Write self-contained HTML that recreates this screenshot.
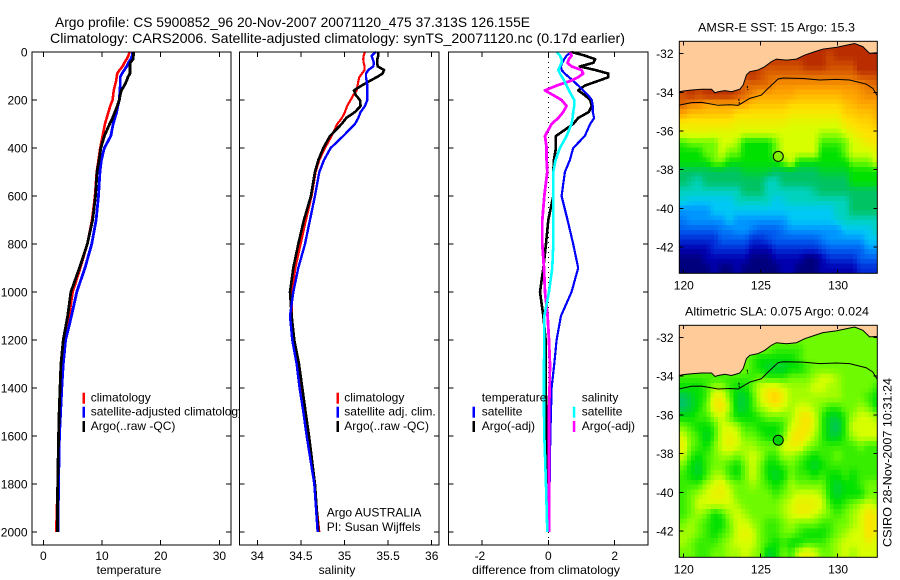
<!DOCTYPE html>
<html lang="en">
<head>
<meta charset="utf-8">
<title>Argo profile</title>
<style>
html,body{margin:0;padding:0;background:#fff;}
svg{display:block;}
text{font-family:"Liberation Sans",sans-serif;font-size:12px;fill:#000;}
.title{font-size:14px;}
</style>
</head>
<body>
<svg id="chart" xmlns="http://www.w3.org/2000/svg" width="900" height="580" viewBox="0 0 900 580">
<defs>
<clipPath id="clip-sst"><rect x="679.3" y="41.3" width="198" height="232"/></clipPath>
<clipPath id="clip-sla"><rect x="679.3" y="325.3" width="198" height="232"/></clipPath>
</defs>
<rect width="900" height="580" fill="#fff"/>
<text class="title" x="55" y="27" textLength="475" lengthAdjust="spacingAndGlyphs">Argo profile: CS 5900852_96 20-Nov-2007 20071120_475 37.313S 126.155E</text>
<text class="title" x="50" y="43" textLength="575" lengthAdjust="spacingAndGlyphs">Climatology: CARS2006. Satellite-adjusted climatology: synTS_20071120.nc (0.17d earlier)</text>

<g id="panel-temp">
<rect x="32" y="52" width="199" height="493" fill="#fff"/>
<g id="ticks-temp"></g>
<g id="curves-temp"></g>
<rect x="32" y="52" width="199" height="493" fill="none" stroke="#000" stroke-width="1"/>
<g>
<rect x="82.5" y="392.7" width="2.5" height="11" fill="#f00"/>
<rect x="82.5" y="406.7" width="2.5" height="11" fill="#00f"/>
<rect x="82.5" y="421" width="2.5" height="11" fill="#000"/>
<text x="90.7" y="401.7">climatology</text>
<text x="90.7" y="415.7">satellite-adjusted climatology</text>
<text x="90.7" y="430">Argo(..raw -QC)</text>
</g>
<text x="129" y="574" text-anchor="middle">temperature</text>
</g>

<g id="panel-sal">
<rect x="239.5" y="52" width="199.5" height="493" fill="#fff"/>
<g id="ticks-sal"></g>
<g id="curves-sal"></g>
<rect x="239.5" y="52" width="199.5" height="493" fill="none" stroke="#000" stroke-width="1"/>
<g>
<rect x="336.5" y="392.7" width="2.5" height="11" fill="#f00"/>
<rect x="336.5" y="406.7" width="2.5" height="11" fill="#00f"/>
<rect x="336.5" y="421" width="2.5" height="11" fill="#000"/>
<text x="344.3" y="401.7">climatology</text>
<text x="344.3" y="415.7">satellite adj. clim.</text>
<text x="344.3" y="430">Argo(..raw -QC)</text>
</g>
<text x="326.7" y="516.7">Argo AUSTRALIA</text>
<text x="326.7" y="531">PI: Susan Wijffels</text>
<text x="337" y="574" text-anchor="middle">salinity</text>
</g>

<g id="panel-diff">
<rect x="448.5" y="52" width="199.5" height="493" fill="#fff"/>
<g id="ticks-diff"></g>
<g id="curves-diff"></g>
<rect x="448.5" y="52" width="199.5" height="493" fill="none" stroke="#000" stroke-width="1"/>
<g>
<text x="481.7" y="401.7">temperature</text>
<text x="581.7" y="401.7">salinity</text>
<rect x="472.5" y="406.7" width="2.5" height="11" fill="#00f"/>
<rect x="472.5" y="421" width="2.5" height="11" fill="#000"/>
<rect x="572.8" y="406.7" width="2.5" height="11" fill="#0ff"/>
<rect x="572.8" y="421" width="2.5" height="11" fill="#f0f"/>
<text x="481.7" y="415.7">satellite</text>
<text x="481.7" y="430">Argo(-adj)</text>
<text x="581.7" y="415.7">satellite</text>
<text x="581.7" y="430">Argo(-adj)</text>
</g>
<text x="546" y="574" text-anchor="middle" textLength="148" lengthAdjust="spacingAndGlyphs">difference from climatology</text>
</g>

<g id="map-sst">
<text x="776.5" y="31.5" text-anchor="middle" textLength="157" lengthAdjust="spacingAndGlyphs">AMSR-E SST: 15 Argo: 15.3</text>
<g id="cells-sst" clip-path="url(#clip-sst)"></g>
<g id="over-sst" clip-path="url(#clip-sst)"></g>
<rect x="679.3" y="41.3" width="198" height="232" fill="none" stroke="#000" stroke-width="1"/>
<g id="ticks-sst"></g>
</g>

<g id="map-sla">
<text x="777" y="315.7" text-anchor="middle" textLength="184" lengthAdjust="spacingAndGlyphs">Altimetric SLA: 0.075 Argo: 0.024</text>
<g id="cells-sla" clip-path="url(#clip-sla)"></g>
<g id="over-sla" clip-path="url(#clip-sla)"></g>
<rect x="679.3" y="325.3" width="198" height="232" fill="none" stroke="#000" stroke-width="1"/>
<g id="ticks-sla"></g>
</g>

<text transform="translate(891.5,547) rotate(-90)" textLength="169" lengthAdjust="spacingAndGlyphs">CSIRO 28-Nov-2007 10:31:24</text>
</svg>

<script>
// ---- profile data ----
const depths = [0,15,30,45,60,75,90,105,120,140,160,180,200,225,250,275,300,350,400,450,500,600,700,800,900,1000,1100,1200,1300,1400,1500,1600,1800,2000];

const tempClimatology = [14.7,14.5,14.2,13.8,13.5,13.0,12.6,12.5,12.4,12.2,12.0,11.9,11.8,11.4,11.1,10.8,10.5,10.1,9.7,9.4,9.1,8.8,8.3,7.5,6.3,5.0,4.4,3.5,3.2,2.95,2.8,2.6,2.45,2.2];
const tempSatellite = [15.2,15.15,14.9,14.5,14.2,13.8,13.4,13.1,13.1,13.1,13.05,13.0,12.95,12.7,12.5,12.2,11.9,11.5,10.4,9.9,9.65,9.4,9.0,8.25,7.1,5.7,4.8,3.8,3.4,3.15,2.95,2.75,2.6,2.5];
const tempArgo = [15.35,15.35,15.3,14.8,14.75,14.75,14.75,14.4,14.2,13.8,13.3,13.1,12.95,12.6,12.2,11.8,11.3,10.4,9.8,9.5,9.15,8.9,8.4,7.5,6.15,4.7,4.15,3.4,3.0,2.85,2.7,2.6,2.45,2.4];

const salClimatology = [35.235,35.22,35.215,35.22,35.23,35.23,35.2,35.17,35.16,35.15,35.14,35.1,35.07,35.03,35.005,34.97,34.917,34.852,34.776,34.711,34.669,34.623,34.558,34.497,34.436,34.398,34.394,34.424,34.47,34.508,34.539,34.593,34.654,34.711];
const salSatellite = [35.361,35.311,35.323,35.338,35.33,35.273,35.246,35.246,35.254,35.261,35.261,35.261,35.261,35.235,35.185,35.158,35.12,34.986,34.841,34.765,34.711,34.661,34.604,34.547,34.47,34.413,34.375,34.401,34.451,34.485,34.528,34.566,34.654,34.692];
const salArgo = [35.388,35.388,35.376,35.376,35.38,35.453,35.437,35.369,35.292,35.196,35.109,35.131,35.177,35.185,35.12,35.02,34.967,34.833,34.757,34.7,34.661,34.615,34.535,34.47,34.413,34.375,34.394,34.424,34.478,34.516,34.554,34.593,34.661,34.70];

const diffTempSatellite = [.70,.55,.48,.42,.38,.40,.50,.62,.75,.90,1.05,1.20,1.31,1.34,1.34,1.38,1.26,1.10,.75,.65,.50,.40,.58,.75,.90,.70,.38,.25,.18,.10,.08,.06,.04,.04];
const diffTempArgo = [.70,1.10,1.41,1.36,.95,1.41,1.81,1.81,1.51,1.10,.90,1.10,1.26,1.31,1.22,.90,.75,.23,.23,.17,.15,.15,0,-.07,-.15,-.25,-.15,-.08,-.08,-.08,-.05,-.05,-.03,-.03];
const diffSalSatellite = [.25,.35,.40,.40,.35,.30,.35,.42,.48,.55,.62,.70,.78,.78,.75,.73,.70,.55,.35,.22,.15,.15,.15,.15,.12,.02,-.12,-.12,-.13,-.13,-.13,-.12,-.07,-.03];
const diffSalArgo = [.65,.70,.62,.58,.70,1.0,1.05,.90,.68,.25,-.10,.15,.40,.55,.45,.30,.10,-.10,-.05,-.05,-.03,-.12,-.18,-.18,-.13,-.10,-.02,.02,.05,.04,.02,.02,.02,.02];

// ---- tick labels ----
const depthTicks = [0,200,400,600,800,1000,1200,1400,1600,1800,2000];
const tempTicks = [0,10,20,30];
const salTicks = [34,34.5,35,35.5,36];
const diffTicks = [-2,0,2];
const lonTicks = [120,125,130];
const latTicks = [-32,-34,-36,-38,-40,-42];

// ---- map data (colour-scale level per half-degree cell, north to south) ----
const sstLevels = [
[14,14,14,14,14,14,14,14,14,14,14,14,14,14,14,14,14,14,14,14,14,14,14,14,14,14],
[14,14,14,14,14,14,14,14,14,14,14,14,14,14,14,14,14,14,14,13.5,14,14,14,14,14,14],
[13.5,13.5,13.5,13.5,13.5,13.5,13.5,13.5,13.5,13.5,13.5,13.5,13.5,13.5,13.5,13.5,14,14,14,13.5,13.5,13.5,13.5,14.5,14.5,14.5],
[13.5,13.5,13.5,13.5,13.5,13.5,13.5,13.5,13.5,14,13.5,13,13,13,13,13,13,13,13,13,13,13,13,13.5,13.5,13.5],
[13.5,13.5,13.5,13.5,13.5,13.5,13.5,13.5,13,13,13,13,12.3,12.3,12.3,12.3,12.3,12.3,12.3,12.3,12.3,12.3,12.3,12.5,12.8,13],
[13.5,14,13.5,14,14,14,14,13.5,13,12.5,12,12,12,12,12,11.7,11.7,11.7,11.7,11.7,11.7,12,12,12.2,12.5,12.5],
[13,12.5,12.5,12,12,12,12,12,12,11.5,11.5,11.5,11.5,11.5,11.2,11.2,11.2,11.2,11.2,11.2,11.2,11.5,11.7,12,12,12],
[12,11.5,11.5,11.5,11.5,11.5,11.5,11,11,11,11,11,11,11,10.7,10.7,10.7,10.7,10.7,10.7,10.7,11.3,11.3,11.5,11.5,11.8],
[10.8,10.8,10.8,10.8,10.8,10.8,10.8,10.5,10.5,10.5,10.5,10.5,10.5,10.5,10.2,10.2,10.2,10.2,10.2,10.2,10.2,10.8,11,11.2,11.2,11.5],
[10.3,10.3,10.3,10.3,10.2,10.2,10.2,10.2,10,10,10,10,10,10,10,10,10,10,9.5,9.5,9.5,10,10.5,10.8,11,11],
[8.5,9,9,9,9,10,10,9.5,8,8,8,8,9,10,10,10,10,10,8.5,8.5,8.5,9,10,10.3,10.7,10.8],
[8,8,8,9,9,10,9,9,8,8,8,8,9,10,10,10,10,10,8,8,8,9,10,10,10,10.3],
[8,8,8,8,9,9,8,8,8,8,8,8,8,9,10,8,8,8,8,8,8,8,9,9,9,10],
[7,7,7,7,7,7,7,7,7.5,7.5,7.5,7.5,7,7,7,7,7,7,7.5,7.5,7.5,7.5,8,8,8,8],
[7,6.5,6,7,7,7,7,7,7,7,7,6,6,7,7,7,7,7,7,7,7,7,8,8,8,8],
[6,6,6,6,6,6,6,6,7,7,7,6,6,6,6,6,6,6.5,7,7,7,7,7,7,7,7],
[5.5,5,5,5,5,5,5,6,6,6,6,6,5,5.5,6,6,6,6,6,6,6,6,7,7,7,7],
[4,4,4,4,5,5,5,5,5,5,5,5,5,5,5,5,5,5,5,5,6,6,7,7,7,7],
[3.5,4,4,4,4,4,5,4,4,4,4,4,4,4,5,5,5,5,5,5,5.5,6,6,6,6,6],
[3,3,3,3,3,3.5,3.5,4,4,3.5,3,3,3,3.5,4,4,4,4,4,4,4,5,5,5,5,6],
[2,2,2,2,2,3,3,3,3,2,2,2.5,3,3,3,3,3,3,3.5,4,4,4,4,4,5,5],
[1,1,1,1,2,2,2,2,2,1,1,1,2,2,2,2,2,2,2.5,3,3,3,3,3,4,4],
[0,0,0,1,1,1,1,1,1,0,0,0,1,1,1,1,0,0,1,2,2,2,2,3,3,3],
[0,0,0,0,1,0,0,1,0,0,0,0,0,1,1,0,0,0,1,1,1,1,1,2,2,2]
];
const slaLevels = [
[9,9,9,9,9,9,9,9,9,9,9,9,9,9,9,9,9,9,9,9,9,9,9,9,9,9],
[9,9,9,9,9,9,9,9,9,9,9,9,9,9,9,9,9,9,9,9,9,9,9,9,9,9],
[9,9,9,9,9,9,9,9,9,9,9,9,8.5,8.5,8.5,8.5,9,9,9,9,9,9,9,9,9,9],
[9,9,9,9,9,9,9,9,9,8.5,8,8,8,8,8,8.5,9,9,9,9,9,9,9,9,9,9],
[9,9,9,9,9,9,9,9,9,8.5,8,7.5,7.5,7.5,8,8,8.5,9,9,9,9,9,9,9,9,9],
[8.5,8.5,8.5,8.5,8.5,8.5,8.5,8.5,8.5,8.5,9,8.5,8.5,8.5,9,9,9,9.5,10,10,9.5,9,9,9,9,9],
[8,8,8,8.5,9.5,9.5,8.5,8,8,9,10,10.5,10.5,10,9.5,9.5,9.5,10,10,9.5,9.5,9,9,9,9,8.5],
[7,7.5,8,8.5,10.5,10.5,9,7.5,7.5,8.5,10,11,11.5,10.5,9.5,9.5,9.5,9.5,9.5,9.5,9.5,9,9,9,8.5,8],
[7,7.5,8,9,10.5,11,9.5,7.5,7.5,8.5,9.5,10,10.5,10,9.5,10,10,9.5,9,8.5,8.5,9,9,9.5,9,8],
[8,8,8.5,8.5,9.5,10,9,8,8,8,8.5,9,9,9,9.5,10.5,11,10,8.5,7.5,7.5,8.5,9.5,10,10,9.5],
[9,8.5,8,8,8.5,10,10,9.5,8.5,8.5,8,8,8,8.5,10,10.5,11,10,8.5,7.5,7,8.5,10,10,10,10],
[10,9,8.5,7.5,8.5,10,10.5,10,9,9,8.5,8,8,9,10.5,11,10.5,9.5,8.5,7.5,7.5,8.5,9.5,10,10,10],
[10.5,9,8.5,8,9,10,10.5,10,9.5,9.5,9,9,9,10,10.5,10.5,9.5,9,8.5,8.5,8.5,8.5,8.5,9,8.5,8.5],
[10,8.5,8,8.5,9,9.5,9.5,9,9.5,10,9.5,8.5,8.5,9.5,9.5,9,8.5,8,8.5,8.5,9,8.5,8.5,8.5,8.5,8.5],
[9,8,7.5,8.5,9,9,8.5,8,9,10,9,8,8,8.5,9,8.5,8,7.5,8,8.5,8.5,8.5,8.5,8.5,8.5,8.5],
[8.5,8,7.5,8.5,9.5,9.5,8.5,8,9,10,9,8,7.5,8,9,8.5,8.5,8,8.5,8,8,8.5,8,8.5,8.5,8.5],
[8.5,8.5,8.5,9.5,10,10.5,9.5,9,9,9.5,9,8.5,8,8.5,9.5,9,9,9,9,8,7.5,8,8,8.5,9,9],
[8.5,9,9.5,10,10.5,10.5,10,9,9,9,9,9,8.5,9,9.5,10,10,10,9.5,8,7.5,8,8,8,9,9],
[8.5,9,10,10,10,10,10,9.5,9,9,9,9,9,9.5,10,10.5,10.5,10.5,10,8.5,8,8.5,9,9.5,10,9.5],
[8.5,9,9.5,9,8,8.5,9.5,10,9.5,9,9,9,9,9.5,10,10.5,10.5,10,9.5,9,8.5,9,9.5,10,11,10.5],
[9,9.5,9,8.5,8,8,9,10,10,9.5,9,8.5,8.5,9,9.5,9,9,9,8.5,8.5,9,9,9.5,10,11,10.5],
[9.5,9.5,9,8.5,8,8.5,9,10,10.5,10,9,8.5,8.5,9,9,8.5,8,8,8,8.5,9,9.5,10,10,11,10.5],
[9.5,9,8.5,8.5,8.5,9,9.5,10,10,10,9,8.5,8,8.5,8,8,8.5,8.5,8.5,9,9.5,10,10,10,10.5,10],
[9,9,8.5,8.5,9,9,9.5,9.5,10,9.5,9,7.5,8,9,8.5,10,10.5,10,9,9,9.5,10,9.5,10,10,10]
];

const coastLon = [119.74,120,120.54,121.19,121.83,122.05,122.26,122.69,123.13,123.66,123.88,124.09,124.31,124.85,125.28,125.71,126.03,126.68,127.33,127.87,128.51,129.05,129.91,131.10,131.64,132.07,132.57];
const coastLat = [-33.97,-33.93,-33.88,-33.84,-33.84,-34.02,-33.97,-33.91,-33.97,-33.84,-33.62,-33.10,-32.93,-32.84,-32.67,-32.41,-32.28,-32.33,-32.28,-32.07,-31.90,-31.76,-31.67,-31.47,-31.64,-31.98,-31.95];
const shelfLon = [119.74,120.54,121.19,122.26,123.02,123.56,124.31,125.06,125.50,126.14,126.47,127.76,128.84,129.91,130.78,131.85,132.28,132.57];
const shelfLat = [-34.66,-34.53,-34.52,-34.67,-34.64,-34.67,-34.31,-34.14,-33.79,-33.31,-33.26,-33.28,-33.36,-33.33,-33.36,-33.57,-33.79,-34.17];
const isletOneLon = [124.14,124.18];
const isletOneLat = [-33.67,-33.88];
const isletTwoLon = [123.60,123.63];
const isletTwoLat = [-34.34,-34.60];
const floatLon = 126.155;
const floatLat = -37.313;

// ---- colour scale stops: navy - blue - cyan - green - yellow - orange - dark red ----
const colourStops = [[0,0,125],[0,0,175],[0,45,215],[0,95,240],[0,150,255],[0,200,245],[0,210,190],[0,195,100],[0,225,0],[110,250,0],[215,255,0],[255,225,0],[255,165,0],[225,105,0],[185,45,0]];

// ---- axis functions ----
const NS = 'http://www.w3.org/2000/svg';
function yDepth(d){ return 52 + d * 0.24; }
function xTemp(v){ return 43.3 + v * 5.87; }
function xSal(v){ return 257.3 + (v - 34) * 87.2; }
function xDiff(v){ return 548.3 + v * 33.2; }
function xLon(v){ return 683.3 + (v - 120) * 15.43; }
function yLatSst(v){ return 53.7 + (-32 - v) * 19.33; }
function yLatSla(v){ return 337.3 + (-32 - v) * 19.37; }

function levelColour(l){
  const a = Math.max(0, Math.min(colourStops.length - 1, Math.floor(l)));
  const b = Math.min(colourStops.length - 1, a + 1);
  const f = l - a;
  const c = [0,1,2].map(function(k){ return Math.round(colourStops[a][k] * (1 - f) + colourStops[b][k] * f); });
  return 'rgb(' + c.join(',') + ')';
}

function tickLine(parent, x1, y1, x2, y2){
  const el = document.createElementNS(NS, 'line');
  
  
  el.setAttribute('x1', x1);
  el.setAttribute('y1', y1);
  el.setAttribute('x2', x2);
  el.setAttribute('y2', y2);
  el.setAttribute('stroke', '#000');
  el.setAttribute('stroke-width', '1');
  el.setAttribute('shape-rendering', 'crispEdges');
  parent.appendChild(el);
}
function tickText(parent, x, y, anchor, str){
  const el = document.createElementNS(NS, 'text');
  
  
  el.setAttribute('x', x);
  el.setAttribute('y', y);
  el.setAttribute('text-anchor', anchor);
  el.textContent = str;
  parent.appendChild(el);
}
function curve(parentId, name, values, xFn, colour, width){
  const el = document.createElementNS(NS, 'polyline');
  
  
  el.setAttribute('points', values.map(function(v, i){ return xFn(v).toFixed(2) + ',' + yDepth(depths[i]).toFixed(2); }).join(' '));
  el.setAttribute('fill', 'none');
  el.setAttribute('stroke', colour);
  el.setAttribute('stroke-width', width);
  el.setAttribute('stroke-linejoin', 'round');
  el.setAttribute('shape-rendering', 'crispEdges');
  document.getElementById(parentId).appendChild(el);
}

function profileAxes(id, ticks, xFn, left, right, showDepthLabels){
  const g = document.getElementById(id);
  depthTicks.forEach(function(d){
    const y = yDepth(d);
    if (d > 0) {
      tickLine(g, left, y, left + 5, y);
      tickLine(g, right - 5, y, right, y);
    }
    if (showDepthLabels) tickText(g, 27.5, y + 4.5, 'end', String(d));
  });
  ticks.forEach(function(t){
    const x = xFn(t);
    tickLine(g, x, 52, x, 57);
    tickLine(g, x, 540, x, 545);
    tickText(g, x - (t < 0 ? 2 : 0), 560, 'middle', String(t));
  });
}

profileAxes('ticks-temp', tempTicks, xTemp, 32, 231, true);
profileAxes('ticks-sal', salTicks, xSal, 239.5, 439, false);
profileAxes('ticks-diff', diffTicks, xDiff, 448.5, 648, false);

// zero reference line
(function(){
  const el = document.createElementNS(NS, 'line');
  
  
  el.setAttribute('x1', xDiff(0));
  el.setAttribute('x2', xDiff(0));
  el.setAttribute('y1', 52);
  el.setAttribute('y2', 545);
  el.setAttribute('stroke', '#000');
  el.setAttribute('stroke-width', '1');
  el.setAttribute('stroke-dasharray', '1 4');
  el.setAttribute('shape-rendering', 'crispEdges');
  document.getElementById('curves-diff').appendChild(el);
})();

curve('curves-temp', 'temperature-climatology-line', tempClimatology, xTemp, '#f00', 2.6);
curve('curves-temp', 'temperature-satellite-line', tempSatellite, xTemp, '#00f', 2.8);
curve('curves-temp', 'temperature-argo-line', tempArgo, xTemp, '#000', 2.8);

curve('curves-sal', 'salinity-climatology-line', salClimatology, xSal, '#f00', 2.2);
curve('curves-sal', 'salinity-argo-line', salArgo, xSal, '#000', 2.6);
curve('curves-sal', 'salinity-satellite-line', salSatellite, xSal, '#00f', 2.4);

curve('curves-diff', 'difference-temperature-argo-line', diffTempArgo, xDiff, '#000', 2.6);
curve('curves-diff', 'difference-temperature-satellite-line', diffTempSatellite, xDiff, '#00f', 2.2);
curve('curves-diff', 'difference-salinity-argo-line', diffSalArgo, xDiff, '#f0f', 2.8);
curve('curves-diff', 'difference-salinity-satellite-line', diffSalSatellite, xDiff, '#0ff', 2.6);

// Display resampling: each half-degree reading is shaded across quarter-degree cells,
// the map's native pixel size, blending towards neighbouring readings.
function levelAt(levels, r, c){
  const v = Math.max(0, Math.min(levels.length - 1, (r - 0.5) / 2));
  const u = Math.max(0, Math.min(levels[0].length - 1, (c - 0.5) / 2));
  const r0 = Math.floor(v), c0 = Math.floor(u);
  const r1 = Math.min(levels.length - 1, r0 + 1), c1 = Math.min(levels[0].length - 1, c0 + 1);
  const fv = v - r0, fu = u - c0;
  return (levels[r0][c0] * (1 - fu) + levels[r0][c1] * fu) * (1 - fv) +
         (levels[r1][c0] * (1 - fu) + levels[r1][c1] * fu) * fv;
}

function islet(parent, key, lons, lats, yLat){
  const el = document.createElementNS(NS, 'polyline');
  
  
  el.setAttribute('points', lons.map(function(v, i){ return xLon(v).toFixed(2) + ',' + yLat(lats[i]).toFixed(2); }).join(' '));
  el.setAttribute('fill', 'none');
  el.setAttribute('stroke', '#000');
  el.setAttribute('stroke-width', '1');
  el.setAttribute('stroke-dasharray', '2 1');
  parent.appendChild(el);
}

function drawMap(key, levels, yLat, markerColour){
  const cells = document.getElementById('cells-' + key);
  const over = document.getElementById('over-' + key);
  const ticks = document.getElementById('ticks-' + key);
  const topLat = -31.36;
  for (let r = 0; r < levels.length * 2; r++) {
    for (let c = 0; c < levels[0].length * 2; c++) {
      const lon = 119.75 + c * 0.25;
      const lat = topLat - r * 0.25;
      const el = document.createElementNS(NS, 'rect');
      
      
      el.setAttribute('x', xLon(lon).toFixed(2));
      el.setAttribute('y', yLat(lat).toFixed(2));
      el.setAttribute('width', (xLon(lon + 0.25) - xLon(lon) + 0.4).toFixed(2));
      el.setAttribute('height', (yLat(lat - 0.25) - yLat(lat) + 0.4).toFixed(2));
      el.setAttribute('fill', levelColour(levelAt(levels, r, c)));
      el.setAttribute('shape-rendering', 'crispEdges');
      cells.appendChild(el);
    }
  }

  const coastPts = coastLon.map(function(v, i){ return xLon(v).toFixed(2) + ',' + yLat(coastLat[i]).toFixed(2); });
  const land = document.createElementNS(NS, 'polygon');
  
  
  land.setAttribute('points', coastPts.join(' ') + ' ' + xLon(132.57).toFixed(2) + ',' + yLat(-31).toFixed(2) + ' ' + xLon(119.74).toFixed(2) + ',' + yLat(-31).toFixed(2));
  land.setAttribute('fill', '#ffcc99');
  over.appendChild(land);

  const coast = document.createElementNS(NS, 'polyline');
  
  
  coast.setAttribute('points', coastPts.join(' '));
  coast.setAttribute('fill', 'none');
  coast.setAttribute('stroke', '#000');
  coast.setAttribute('stroke-width', '1');
  over.appendChild(coast);

  const shelf = document.createElementNS(NS, 'polyline');
  
  
  shelf.setAttribute('points', shelfLon.map(function(v, i){ return xLon(v).toFixed(2) + ',' + yLat(shelfLat[i]).toFixed(2); }).join(' '));
  shelf.setAttribute('fill', 'none');
  shelf.setAttribute('stroke', '#000');
  shelf.setAttribute('stroke-width', '1');
  over.appendChild(shelf);

  islet(over, key, isletOneLon, isletOneLat, yLat);
  islet(over, key, isletTwoLon, isletTwoLat, yLat);

  const marker = document.createElementNS(NS, 'circle');
  
  
  marker.setAttribute('cx', xLon(floatLon).toFixed(2));
  marker.setAttribute('cy', yLat(floatLat).toFixed(2));
  marker.setAttribute('r', '5');
  marker.setAttribute('fill', markerColour);
  marker.setAttribute('stroke', '#000');
  marker.setAttribute('stroke-width', '1');
  over.appendChild(marker);

  const top = yLat(-31.36), bottom = yLat(-43.36);
  lonTicks.forEach(function(t){
    const x = xLon(t);
    tickLine(ticks, x, top, x, top + 4);
    tickLine(ticks, x, bottom - 4, x, bottom);
    tickText(ticks, x + 0.5, bottom + 16, 'middle', String(t));
  });
  latTicks.forEach(function(t){
    const y = yLat(t);
    tickLine(ticks, 679.3, y, 683.3, y);
    tickLine(ticks, 873.3, y, 877.3, y);
    tickText(ticks, 673.5, y + 4.5, 'end', String(t));
  });
}

drawMap('sst', sstLevels, yLatSst, 'rgb(130,240,0)');
drawMap('sla', slaLevels, yLatSla, 'rgb(0,210,0)');
</script>
</body>
</html>
